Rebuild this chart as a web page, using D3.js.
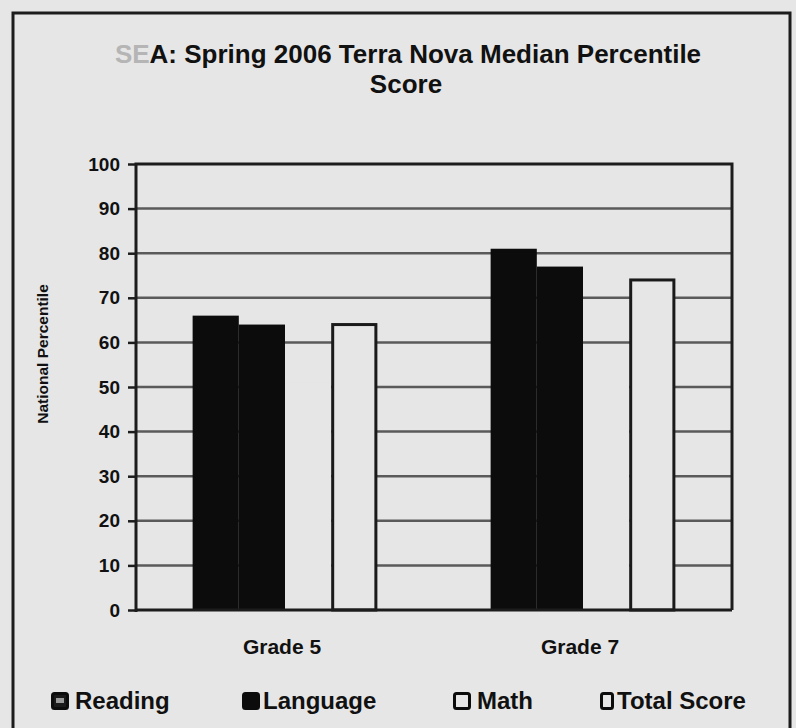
<!DOCTYPE html>
<html>
<head>
<meta charset="utf-8">
<script src="https://cdn.jsdelivr.net/npm/d3@7"></script>
<style>
  body { margin: 0; background: #e6e6e6; }
  svg { display: block; font-family: "Liberation Sans", Arial, sans-serif; }
</style>
</head>
<body>
<svg id="chart" width="796" height="728"></svg>
<script>
// values
const grades = ["Grade 5", "Grade 7"];
const series = ["Reading", "Language", "Math", "Total Score"];
const reading = [66, 81];
const language = [64, 77];
const math = [51, 58];
const totalScore = [64, 74];
const yTicks = [0, 10, 20, 30, 40, 50, 60, 70, 80, 90, 100];

const values = [reading, language, math, totalScore];
const rows = grades.map((g, i) => ({ grade: g, vals: series.map((s, j) => ({ key: s, v: values[j][i] })) }));

const BG = "#e6e6e6";
const INK = "#111";
const fill = { "Reading": "#0c0c0c", "Language": "#0c0c0c", "Math": BG, "Total Score": BG };
const stroke = { "Reading": "none", "Language": "none", "Math": "none", "Total Score": "#1a1a1a" };

const svg = d3.select("#chart");
const M = { left: 136, right: 732, top: 164, bottom: 610 };

// outer frame
svg.append("path")
  .attr("d", `M13,740 V13 H790 V740`)
  .attr("fill", "none").attr("stroke", "#1c1c1c").attr("stroke-width", 3);

// title
const title = svg.append("text").attr("text-anchor", "middle")
  .attr("font-size", 26).attr("font-weight", "bold").attr("fill", INK);
title.append("tspan").attr("x", 408).attr("y", 63)
  .call(t => t.append("tspan").attr("fill", "#b5b5b5").text("SE"))
  .call(t => t.append("tspan").text("A: Spring 2006 Terra Nova Median Percentile"));
title.append("tspan").attr("x", 406).attr("y", 93).text("Score");

const y = d3.scaleLinear().domain([0, 100]).range([M.bottom, M.top]);
const x0 = d3.scaleBand().domain(grades).range([M.left, M.right])
  .paddingInner(0.38).paddingOuter(0.19);
const x1 = d3.scaleBand().domain(series).range([0, x0.bandwidth()]);

// gridlines
svg.append("g").selectAll("line").data(yTicks.filter(t => t > 0 && t < 100)).join("line")
  .attr("x1", M.left).attr("x2", M.right)
  .attr("y1", d => y(d)).attr("y2", d => y(d))
  .attr("stroke", "#5a5a5a").attr("stroke-width", 2.5);

// bars
const grp = svg.append("g").selectAll("g").data(rows).join("g")
  .attr("transform", d => `translate(${x0(d.grade)},0)`);
grp.selectAll("rect").data(d => d.vals).join("rect")
  .attr("x", d => x1(d.key) + (d.key === "Total Score" ? 1.5 : 0))
  .attr("width", d => x1.bandwidth() - (d.key === "Total Score" ? 3 : 0))
  .attr("y", d => y(d.v))
  .attr("height", d => y(0) - y(d.v))
  .attr("fill", d => fill[d.key])
  .attr("stroke", d => stroke[d.key])
  .attr("stroke-width", 3);

// y axis
const yAxis = svg.append("g").attr("transform", `translate(${M.left},0)`)
  .call(d3.axisLeft(y).tickValues(yTicks).tickSize(8).tickPadding(8));
yAxis.select(".domain").remove();
yAxis.selectAll("line").attr("stroke", "#1c1c1c").attr("stroke-width", 2.5);
yAxis.selectAll("text").attr("font-size", 19).attr("font-weight", "bold")
  .attr("fill", INK).attr("font-family", "Liberation Sans, Arial, sans-serif");

// plot frame: left, top, right, bottom
svg.append("path")
  .attr("d", `M${M.left},${M.bottom + 2} V${M.top} H${M.right} V${M.bottom}`)
  .attr("fill", "none").attr("stroke", "#1c1c1c").attr("stroke-width", 3);
svg.append("line")
  .attr("x1", M.left).attr("x2", M.right).attr("y1", M.bottom).attr("y2", M.bottom)
  .attr("stroke", "#1c1c1c").attr("stroke-width", 3);

// axis title
svg.append("text")
  .attr("transform", `translate(48,354) rotate(-90)`)
  .attr("text-anchor", "middle").attr("font-size", 15.5).attr("font-weight", "bold")
  .attr("fill", INK).text("National Percentile");

// category labels
svg.append("g").selectAll("text").data(grades).join("text")
  .attr("x", d => x0(d) + x0.bandwidth() / 2 - 3).attr("y", 654)
  .attr("text-anchor", "middle").attr("font-size", 21).attr("font-weight", "bold")
  .attr("fill", INK).text(d => d);

// legend
const legX = [51, 242, 453, 600];
const legW = [15, 15, 15, 11];
const leg = svg.append("g").selectAll("g").data(series).join("g")
  .attr("transform", (d, i) => `translate(${legX[i]},692)`);
leg.append("rect")
  .attr("x", 1.5).attr("y", 1.5).attr("width", (d, i) => legW[i]).attr("height", 15).attr("rx", 2)
  .attr("fill", d => d === "Language" ? "#0c0c0c" : (d === "Reading" ? "#1a1a1a" : BG))
  .attr("stroke", "#0c0c0c").attr("stroke-width", 3);
leg.filter(d => d === "Reading").append("rect")
  .attr("x", 5).attr("y", 6).attr("width", 8).attr("height", 5).attr("fill", "#9a9a9a");
leg.append("text")
  .attr("x", (d, i) => [24, 21, 24, 17][i]).attr("y", 17)
  .attr("font-size", 24).attr("font-weight", "bold").attr("fill", INK)
  .text(d => d);
</script>
</body>
</html>
